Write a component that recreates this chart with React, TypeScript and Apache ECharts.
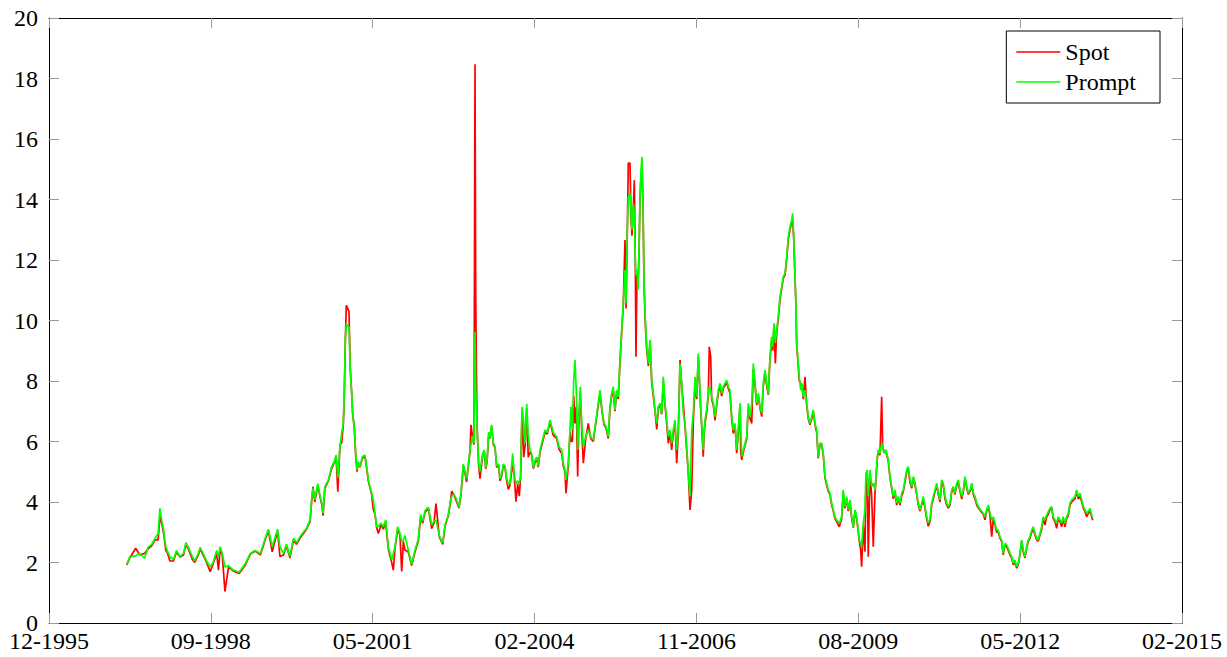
import React, { useEffect, useRef } from "react";
import * as echarts from "echarts";

// x-axis tick labels (one every 1000 days)
const tickLabels = ["12-1995", "09-1998", "05-2001", "02-2004", "11-2006", "08-2009", "05-2012", "02-2015"];
const yTicks = [0, 20, 2]; // min, max, step

// readings: [decimal year, Spot, Prompt]
const seg1997: number[][] = [
  [1997.25, 1.92, 1.95], [1997.30, 2.15, 2.19], [1997.40, 2.47, 2.22], [1997.47, 2.25, 2.30],
  [1997.55, 2.30, 2.14], [1997.61, 2.45, 2.50], [1997.67, 2.55, 2.60], [1997.73, 2.75, 2.80],
  [1997.78, 2.75, 2.95], [1997.81, 3.50, 3.79], [1997.84, 3.30, 3.40], [1997.87, 3.00, 3.10],
  [1997.91, 2.40, 2.52], [1997.94, 2.30, 2.36], [1997.98, 2.05, 2.19], [1998.04, 2.05, 2.10],
  [1998.09, 2.35, 2.40], [1998.15, 2.18, 2.20], [1998.21, 2.25, 2.30], [1998.25, 2.60, 2.66],
  [1998.29, 2.45, 2.50], [1998.36, 2.10, 2.19], [1998.40, 2.00, 2.05], [1998.46, 2.25, 2.30],
  [1998.49, 2.45, 2.50], [1998.54, 2.25, 2.30], [1998.60, 2.00, 2.05], [1998.66, 1.70, 1.85],
  [1998.71, 1.95, 2.00], [1998.77, 2.30, 2.40], [1998.80, 1.75, 2.20], [1998.83, 2.45, 2.52],
  [1998.865, 2.25, 2.30], [1998.91, 1.04, 1.85], [1998.97, 1.85, 1.90], [1999.05, 1.72, 1.75],
  [1999.15, 1.64, 1.68], [1999.25, 1.90, 1.95], [1999.34, 2.28, 2.30], [1999.42, 2.38, 2.40],
  [1999.51, 2.25, 2.30], [1999.60, 2.80, 2.85], [1999.645, 3.05, 3.10], [1999.71, 2.35, 2.52],
  [1999.80, 3.05, 3.10],
];

const seg2000: number[][] = [
  [1999.84, 2.20, 2.52], [1999.90, 2.25, 2.30], [1999.95, 2.55, 2.60], [2000.01, 2.15, 2.20],
  [2000.07, 2.75, 2.80], [2000.12, 2.60, 2.65], [2000.18, 2.80, 2.85], [2000.235, 2.95, 3.00],
  [2000.29, 3.10, 3.13], [2000.35, 3.35, 3.41], [2000.38, 4.10, 4.18], [2000.40, 4.50, 4.45],
  [2000.43, 4.00, 4.07], [2000.48, 4.55, 4.61], [2000.52, 4.15, 4.18], [2000.55, 3.90, 3.96],
  [2000.57, 3.55, 3.63], [2000.60, 4.45, 4.50], [2000.66, 4.70, 4.73], [2000.715, 5.10, 5.17],
  [2000.76, 5.30, 5.33], [2000.79, 5.50, 5.55], [2000.82, 4.34, 4.80], [2000.856, 5.90, 5.83],
  [2000.884, 5.95, 6.27], [2000.912, 6.55, 6.60], [2000.929, 7.50, 7.60], [2000.946, 9.30, 9.35],
  [2000.963, 10.50, 9.90], [2000.986, 10.40, 9.80], [2001.008, 10.30, 9.80], [2001.03, 8.40, 8.36],
  [2001.054, 7.60, 7.60], [2001.071, 6.90, 6.93], [2001.098, 6.45, 6.49], [2001.122, 5.55, 5.60],
  [2001.144, 5.00, 5.06], [2001.166, 5.30, 5.33], [2001.195, 5.15, 5.17], [2001.234, 5.45, 5.50],
  [2001.279, 5.50, 5.55], [2001.308, 5.10, 5.17], [2001.335, 4.70, 4.73], [2001.392, 4.25, 4.29],
  [2001.419, 3.75, 4.07], [2001.448, 3.60, 3.63], [2001.477, 3.15, 3.18], [2001.504, 2.96, 3.20],
  [2001.55, 3.25, 3.30], [2001.589, 3.10, 3.18], [2001.629, 3.35, 3.41], [2001.673, 2.45, 2.52],
  [2001.731, 2.00, 2.08], [2001.758, 1.75, 2.30], [2001.786, 2.45, 2.52], [2001.832, 3.10, 3.18],
  [2001.871, 2.90, 2.96], [2001.90, 1.70, 2.70], [2001.928, 2.70, 2.74],
];

const seg2002: number[][] = [
  [2001.955, 2.41, 2.89], [2002.011, 2.35, 2.41], [2002.069, 1.90, 1.94], [2002.125, 2.35, 2.41],
  [2002.18, 2.70, 2.77], [2002.221, 3.50, 3.59], [2002.255, 3.30, 3.36], [2002.294, 3.65, 3.71],
  [2002.35, 3.80, 3.83], [2002.407, 3.12, 3.24], [2002.446, 3.30, 3.36], [2002.48, 3.95, 3.40],
  [2002.536, 2.85, 2.89], [2002.594, 2.60, 2.65], [2002.633, 3.20, 3.24], [2002.689, 3.55, 3.59],
  [2002.718, 3.90, 3.95], [2002.746, 4.36, 4.20], [2002.79, 4.20, 4.24], [2002.83, 4.00, 4.07],
  [2002.869, 3.80, 3.83], [2002.903, 4.25, 4.30], [2002.942, 5.20, 5.25], [2002.971, 4.95, 5.01],
  [2002.999, 4.66, 4.77], [2003.027, 5.20, 5.25], [2003.055, 5.65, 5.72], [2003.072, 6.55, 5.90],
  [2003.101, 6.10, 6.19], [2003.123, 5.90, 5.95], [2003.14, 18.47, 9.62], [2003.152, 10.80, 7.79],
  [2003.174, 6.50, 6.55], [2003.202, 5.20, 5.25], [2003.224, 4.77, 5.01], [2003.27, 5.55, 5.60],
  [2003.297, 5.65, 5.72], [2003.321, 5.10, 5.13], [2003.343, 5.30, 5.37], [2003.372, 6.25, 6.31],
  [2003.393, 6.10, 6.13], [2003.422, 6.50, 6.55], [2003.45, 5.90, 5.95], [2003.478, 5.80, 5.84],
  [2003.507, 5.15, 5.19], [2003.54, 5.20, 5.25], [2003.563, 4.70, 4.77], [2003.591, 4.85, 4.89],
  [2003.618, 5.20, 5.25], [2003.647, 5.15, 5.19], [2003.676, 4.70, 4.77], [2003.703, 4.42, 4.60],
  [2003.732, 4.55, 4.60], [2003.777, 5.30, 5.60], [2003.804, 4.85, 4.89], [2003.833, 4.01, 4.60],
  [2003.862, 4.60, 4.70], [2003.889, 4.19, 4.60], [2003.912, 4.85, 4.89], [2003.935, 7.00, 7.14],
  [2003.963, 5.48, 6.66], [2003.99, 5.90, 5.95], [2004.014, 7.10, 7.25], [2004.041, 5.48, 6.19],
  [2004.07, 5.65, 5.72], [2004.099, 5.55, 5.60], [2004.126, 5.10, 5.13], [2004.155, 5.30, 5.37],
  [2004.184, 5.45, 5.48], [2004.21, 5.15, 5.19], [2004.24, 5.65, 5.72],
];

const seg2004: number[][] = [
  [2004.324, 6.30, 6.38], [2004.363, 6.25, 6.30], [2004.408, 6.65, 6.71], [2004.464, 6.20, 6.30],
  [2004.522, 6.10, 6.16], [2004.56, 5.75, 5.83], [2004.606, 5.60, 5.72], [2004.633, 5.20, 5.28],
  [2004.662, 5.00, 5.06], [2004.679, 4.29, 4.73], [2004.718, 5.20, 5.28], [2004.747, 6.30, 6.38],
  [2004.764, 6.00, 7.15], [2004.786, 6.00, 6.38], [2004.81, 7.50, 8.03], [2004.831, 6.60, 8.69],
  [2004.853, 7.15, 7.70], [2004.877, 4.84, 5.72], [2004.899, 6.80, 6.93], [2004.921, 7.60, 7.81],
  [2004.945, 6.40, 6.60], [2004.972, 5.28, 5.83], [2005.013, 6.10, 6.16], [2005.056, 6.60, 6.38],
  [2005.097, 6.10, 6.16], [2005.141, 6.00, 6.05], [2005.186, 6.65, 6.71], [2005.225, 7.20, 7.26],
  [2005.254, 7.60, 7.70], [2005.288, 7.00, 7.04], [2005.322, 6.55, 6.60], [2005.356, 6.45, 6.50],
  [2005.394, 6.10, 6.16], [2005.423, 7.10, 7.15], [2005.452, 7.50, 7.59], [2005.478, 7.70, 7.81],
  [2005.507, 7.00, 7.04], [2005.536, 7.65, 7.70], [2005.563, 7.40, 7.48], [2005.592, 8.60, 8.69],
  [2005.621, 9.60, 9.69], [2005.648, 10.50, 10.57], [2005.677, 12.66, 11.67], [2005.694, 10.40, 10.57],
  [2005.716, 12.90, 12.99], [2005.733, 15.20, 14.09], [2005.762, 15.20, 14.21], [2005.779, 13.40, 13.54],
  [2005.795, 12.80, 12.99], [2005.818, 13.70, 13.87], [2005.835, 14.64, 13.50], [2005.852, 11.80, 11.89],
  [2005.863, 8.80, 11.50], [2005.88, 11.60, 11.67], [2005.897, 11.12, 11.01], [2005.914, 12.20, 12.33],
  [2005.931, 14.00, 14.09], [2005.948, 14.80, 14.98], [2005.965, 15.00, 15.41], [2005.982, 13.80, 13.87],
  [2005.999, 11.20, 11.34], [2006.021, 9.90, 10.02], [2006.045, 9.00, 9.13], [2006.072, 8.50, 8.58],
  [2006.101, 9.30, 9.36], [2006.13, 7.92, 8.03], [2006.156, 7.50, 7.59], [2006.185, 7.00, 7.04],
  [2006.214, 6.40, 6.60], [2006.241, 7.10, 7.15], [2006.27, 7.20, 7.26], [2006.298, 6.90, 6.93],
  [2006.325, 8.00, 8.14], [2006.354, 7.20, 7.26], [2006.383, 6.60, 6.71], [2006.41, 5.94, 6.16],
  [2006.438, 6.30, 6.38], [2006.467, 5.72, 5.94], [2006.494, 6.30, 6.38], [2006.523, 6.60, 6.71],
  [2006.552, 5.28, 5.72], [2006.579, 6.30, 6.38], [2006.608, 8.69, 8.58], [2006.637, 7.80, 7.92],
  [2006.663, 7.26, 6.93], [2006.692, 6.50, 6.60], [2006.721, 5.70, 5.83], [2006.748, 4.95, 4.95],
  [2006.777, 3.74, 4.18], [2006.806, 4.40, 6.38], [2006.833, 6.70, 6.93], [2006.862, 7.90, 8.14],
  [2006.89, 7.40, 7.48], [2006.917, 8.80, 8.91], [2006.946, 7.60, 7.70],
];

const seg2007: number[][] = [
  [2006.957, 7.10, 7.15], [2006.974, 6.50, 6.60], [2007.001, 5.50, 5.72], [2007.013, 6.20, 6.27],
  [2007.03, 6.60, 6.71], [2007.058, 6.95, 7.04], [2007.086, 7.50, 7.59], [2007.103, 9.13, 7.81],
  [2007.127, 8.80, 7.70], [2007.143, 7.40, 7.48], [2007.171, 7.20, 7.26], [2007.2, 6.70, 6.82],
  [2007.228, 7.20, 7.26], [2007.255, 7.60, 7.70], [2007.284, 7.85, 7.92], [2007.312, 7.50, 7.59],
  [2007.34, 7.75, 7.81], [2007.368, 7.85, 7.92], [2007.397, 7.95, 8.03], [2007.424, 7.75, 7.81],
  [2007.453, 7.60, 7.70], [2007.482, 6.75, 6.82], [2007.509, 6.27, 6.38], [2007.538, 6.55, 6.60],
  [2007.567, 5.61, 5.72], [2007.594, 6.30, 6.38], [2007.623, 7.20, 7.26], [2007.635, 5.61, 6.50],
  [2007.652, 5.39, 5.50], [2007.679, 5.65, 5.72], [2007.736, 6.10, 6.16], [2007.763, 7.15, 7.26],
  [2007.792, 6.75, 6.82], [2007.821, 6.60, 7.26], [2007.848, 8.40, 8.58], [2007.877, 7.85, 7.92],
  [2007.905, 7.20, 7.26], [2007.932, 7.50, 7.59], [2007.961, 7.10, 7.15], [2007.99, 6.82, 6.93],
  [2008.017, 7.85, 7.92], [2008.045, 8.30, 8.36], [2008.074, 7.85, 7.92], [2008.101, 7.55, 7.59],
  [2008.13, 8.75, 8.80], [2008.159, 9.40, 9.46], [2008.176, 9.00, 9.13], [2008.197, 9.85, 9.91],
  [2008.22, 8.58, 9.25], [2008.243, 9.60, 9.69], [2008.27, 10.05, 10.13], [2008.299, 10.70, 10.79],
  [2008.328, 11.05, 11.12], [2008.355, 11.40, 11.45], [2008.384, 11.50, 11.56], [2008.413, 12.05, 12.11],
  [2008.44, 12.70, 12.77], [2008.469, 13.00, 13.10], [2008.497, 13.25, 13.32], [2008.514, 13.30, 13.54],
  [2008.531, 12.70, 12.77], [2008.553, 11.40, 11.45], [2008.57, 10.40, 10.46], [2008.581, 9.20, 9.25],
  [2008.608, 8.50, 8.58], [2008.625, 8.00, 8.14], [2008.649, 7.92, 7.70], [2008.671, 7.85, 7.92],
  [2008.693, 7.40, 7.48], [2008.722, 8.14, 7.70], [2008.751, 7.20, 7.26], [2008.777, 6.75, 6.82],
  [2008.806, 6.55, 6.60], [2008.835, 6.75, 6.82], [2008.862, 6.99, 7.04], [2008.891, 6.55, 6.60],
  [2008.92, 6.30, 6.38], [2008.946, 5.45, 5.50], [2008.975, 5.90, 5.94], [2009.004, 5.90, 5.94],
  [2009.031, 5.55, 5.61], [2009.06, 4.80, 4.84], [2009.089, 4.55, 4.62], [2009.116, 4.35, 4.40],
  [2009.145, 4.25, 4.29], [2009.173, 3.90, 3.96], [2009.2, 3.70, 3.74], [2009.229, 3.45, 3.51],
  [2009.258, 3.35, 3.40], [2009.302, 3.18, 3.30], [2009.342, 3.45, 3.51], [2009.369, 4.30, 4.40],
  [2009.398, 3.80, 3.85], [2009.427, 4.10, 4.18], [2009.454, 3.70, 3.74], [2009.483, 4.00, 4.07],
  [2009.512, 3.45, 3.51], [2009.539, 3.15, 3.18], [2009.568, 3.70, 3.74], [2009.597, 3.45, 3.51],
  [2009.641, 2.70, 2.74],
];

const seg2009: number[][] = [
  [2009.664, 2.41, 2.63], [2009.68, 1.86, 2.52], [2009.708, 3.20, 3.30], [2009.736, 2.36, 3.74],
  [2009.753, 4.73, 4.95], [2009.775, 4.90, 5.06], [2009.792, 2.19, 4.18], [2009.821, 4.95, 5.06],
  [2009.85, 4.18, 4.51], [2009.877, 2.52, 4.62], [2009.906, 4.30, 4.40], [2009.923, 4.75, 4.84],
  [2009.945, 5.45, 5.50], [2009.962, 5.65, 5.72], [2009.99, 5.55, 5.61], [2010.019, 7.48, 5.94],
  [2010.036, 5.80, 5.83], [2010.058, 5.70, 5.61], [2010.092, 5.65, 5.72], [2010.131, 5.35, 5.39],
  [2010.16, 4.80, 4.84], [2010.188, 4.45, 4.51], [2010.215, 4.10, 4.18], [2010.244, 4.35, 4.40],
  [2010.273, 3.90, 3.96], [2010.3, 4.10, 4.18], [2010.329, 3.90, 3.96], [2010.358, 4.20, 4.29],
  [2010.385, 4.35, 4.40], [2010.413, 4.65, 4.73], [2010.442, 5.00, 5.06], [2010.469, 5.10, 5.17],
  [2010.498, 4.65, 4.73], [2010.527, 4.45, 4.51], [2010.554, 4.80, 4.84], [2010.583, 4.55, 4.62],
  [2010.611, 4.25, 4.29], [2010.638, 3.90, 3.96], [2010.667, 3.70, 3.74], [2010.696, 3.90, 3.96],
  [2010.723, 4.10, 4.18], [2010.752, 3.80, 3.85], [2010.78, 3.45, 3.51], [2010.807, 3.20, 3.30],
  [2010.836, 3.35, 3.41], [2010.865, 3.90, 3.96], [2010.892, 4.10, 4.18], [2010.921, 4.35, 4.40],
  [2010.95, 4.55, 4.62], [2010.977, 4.25, 4.29], [2011.006, 4.00, 4.07], [2011.034, 4.65, 4.73],
  [2011.061, 4.55, 4.62], [2011.09, 4.10, 4.18], [2011.119, 3.90, 3.96], [2011.146, 3.80, 3.85],
  [2011.175, 3.90, 3.96], [2011.204, 4.35, 4.40], [2011.231, 4.45, 4.51], [2011.259, 4.25, 4.29],
  [2011.288, 4.55, 4.62], [2011.315, 4.65, 4.73], [2011.344, 4.35, 4.40], [2011.373, 4.10, 4.18],
  [2011.4, 4.35, 4.40], [2011.429, 4.80, 4.84], [2011.458, 4.45, 4.51], [2011.485, 4.25, 4.29],
  [2011.514, 4.35, 4.40], [2011.542, 4.55, 4.62], [2011.569, 4.25, 4.29], [2011.598, 4.10, 4.18],
  [2011.627, 3.90, 3.96], [2011.654, 3.80, 3.85],
];

const seg2011: number[][] = [
  [2011.693, 3.70, 3.74], [2011.737, 3.60, 3.63], [2011.766, 3.41, 3.51], [2011.795, 3.70, 3.74],
  [2011.822, 3.85, 3.90], [2011.851, 3.55, 3.63], [2011.88, 2.85, 3.41], [2011.907, 3.45, 3.51],
  [2011.935, 3.25, 3.30], [2011.964, 3.00, 3.07], [2011.991, 3.00, 3.07], [2012.02, 2.80, 2.85],
  [2012.048, 2.70, 2.74], [2012.075, 2.25, 2.30], [2012.104, 2.58, 2.63], [2012.133, 2.52, 2.58],
  [2012.16, 2.40, 2.47], [2012.189, 2.25, 2.30], [2012.218, 2.15, 2.19], [2012.245, 1.92, 1.97],
  [2012.273, 2.02, 2.08], [2012.302, 1.81, 1.86], [2012.329, 1.92, 1.97], [2012.358, 2.25, 2.30],
  [2012.387, 2.70, 2.74], [2012.414, 2.35, 2.41], [2012.443, 2.15, 2.19], [2012.471, 2.47, 2.52],
  [2012.498, 2.70, 2.74], [2012.527, 2.80, 2.85], [2012.556, 3.00, 3.07], [2012.583, 3.10, 3.18],
  [2012.612, 2.90, 2.96], [2012.64, 2.75, 2.80], [2012.667, 2.70, 2.74], [2012.696, 2.90, 2.96],
  [2012.725, 3.10, 3.18], [2012.752, 3.45, 3.51], [2012.781, 3.24, 3.41], [2012.81, 3.50, 3.57],
  [2012.837, 3.60, 3.68], [2012.866, 3.75, 3.79], [2012.894, 3.80, 3.85], [2012.921, 3.45, 3.51],
  [2012.95, 3.35, 3.41], [2012.979, 3.13, 3.30], [2013.006, 3.45, 3.51], [2013.035, 3.35, 3.41],
  [2013.063, 3.18, 3.30], [2013.09, 3.45, 3.51], [2013.119, 3.18, 3.30], [2013.148, 3.45, 3.51],
  [2013.175, 3.55, 3.63], [2013.204, 3.90, 3.96], [2013.233, 4.00, 4.07], [2013.26, 4.05, 4.12],
  [2013.289, 4.10, 4.18], [2013.318, 4.35, 4.40], [2013.345, 4.10, 4.18], [2013.374, 4.20, 4.29],
  [2013.403, 4.00, 4.07], [2013.43, 3.80, 3.85], [2013.459, 3.68, 3.74], [2013.487, 3.51, 3.63],
  [2013.514, 3.62, 3.68], [2013.543, 3.72, 3.79], [2013.572, 3.50, 3.57], [2013.589, 3.40, 3.46],
];

const readings = [...seg1997, ...seg2000, ...seg2002, ...seg2004, ...seg2007, ...seg2009, ...seg2011];
const years = readings.map((r) => r[0]);
const spot = readings.map((r) => r[1]);
const prompt = readings.map((r) => r[2]);

// axis origin (first tick, 12-1995) as decimal year; axis measured in days
const ORIGIN_YEAR = 1995.934;
const toDays = (y: number) => (y - ORIGIN_YEAR) * 365.25;

const FONT = "Liberation Serif, DejaVu Serif, serif";
const FONT_SIZE = 24;
const SPOT_COLOR = "#ff0000";
const PROMPT_COLOR = "#00ff00";

export default function App() {
  const ref = useRef<HTMLDivElement>(null);
  useEffect(() => {
    if (!ref.current) return;
    const chart = echarts.init(ref.current, null, { renderer: "svg" });
    const line = { show: true, onZero: false, lineStyle: { color: "#000", width: 1 } };
    const tick = { show: true, inside: true, length: 10, lineStyle: { color: "#9a9a9a", width: 1 } };
    chart.setOption({
      animation: false,
      backgroundColor: "#fff",
      textStyle: { fontFamily: FONT },
      grid: { left: 49, right: 45, top: 18, bottom: 34, containLabel: false },
      legend: {
        data: [
          { name: "Spot", itemStyle: { color: SPOT_COLOR, borderWidth: 0 } },
          { name: "Prompt", itemStyle: { color: PROMPT_COLOR, borderWidth: 0 } },
        ],
        orient: "vertical",
        right: 67,
        top: 31,
        padding: [9, 24, 9, 10],
        itemGap: 6,
        itemWidth: 44,
        itemHeight: 1.5,
        icon: "rect",
        borderColor: "#000",
        borderWidth: 1,
        borderRadius: 0,
        backgroundColor: "#fff",
        textStyle: { fontFamily: FONT, fontSize: FONT_SIZE, color: "#000", lineHeight: 24 },
      },
      xAxis: [
        {
          type: "value", min: 0, max: 7000, interval: 1000, position: "bottom",
          axisLine: line, axisTick: tick, splitLine: { show: false },
          axisLabel: {
            formatter: (v: number) => tickLabels[Math.round(v / 1000)] ?? "",
            fontFamily: FONT, fontSize: FONT_SIZE, color: "#000", margin: 10, lineHeight: 16,
            showMinLabel: true, showMaxLabel: true,
          },
        },
        {
          type: "value", min: 0, max: 7000, interval: 1000, position: "top",
          axisLine: line, axisTick: tick, splitLine: { show: false }, axisLabel: { show: false },
        },
      ],
      yAxis: [
        {
          type: "value", min: yTicks[0], max: yTicks[1], interval: yTicks[2], position: "left",
          axisLine: line, axisTick: tick, splitLine: { show: false },
          axisLabel: { fontFamily: FONT, fontSize: FONT_SIZE, color: "#000", margin: 11, lineHeight: 16 },
        },
        {
          type: "value", min: yTicks[0], max: yTicks[1], interval: yTicks[2], position: "right",
          axisLine: line, axisTick: tick, splitLine: { show: false }, axisLabel: { show: false },
        },
      ],
      series: [
        {
          name: "Spot", type: "line", showSymbol: false, symbol: "none",
          data: years.map((y, i) => [toDays(y), spot[i]]),
          lineStyle: { color: SPOT_COLOR, width: 1.7 }, itemStyle: { color: SPOT_COLOR }, z: 2,
        },
        {
          name: "Prompt", type: "line", showSymbol: false, symbol: "none",
          data: years.map((y, i) => [toDays(y), prompt[i]]),
          lineStyle: { color: PROMPT_COLOR, width: 1.7 }, itemStyle: { color: PROMPT_COLOR }, z: 3,
        },
      ],
    });
    return () => chart.dispose();
  }, []);
  return <div ref={ref} style={{ position: "fixed", left: 0, top: 0, width: 1227, height: 657 }} />;
}
